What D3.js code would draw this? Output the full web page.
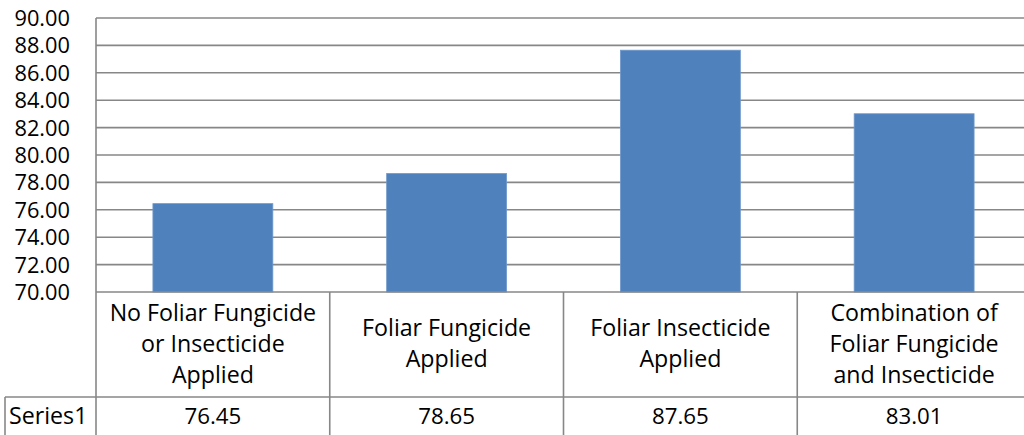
<!DOCTYPE html>
<html><head><meta charset="utf-8">
<script src="https://cdn.jsdelivr.net/npm/d3@7"></script>
<style>html,body{margin:0;padding:0;background:#fff;overflow:hidden}</style>
</head><body><svg id="c" width="1024" height="435"></svg>
<script>
const categories = ["No Foliar Fungicide or Insecticide Applied","Foliar Fungicide Applied","Foliar Insecticide Applied","Combination of Foliar Fungicide and Insecticide"];
const categoryLines = [["No Foliar Fungicide","or Insecticide","Applied"],["Foliar Fungicide","Applied"],["Foliar Insecticide","Applied"],["Combination of","Foliar Fungicide","and Insecticide"]];
const seriesName = "Series1";
const values = [76.45, 78.65, 87.65, 83.01];
const yTicks = [70,72,74,76,78,80,82,84,86,88,90];

(function(){
const svg = d3.select("#c");
const font = "Open Sans, sans-serif";
const fsNum = 21.8, fsText = 23.2;
const pLeft = 96, pRight = 1031, pTop = 18, pBottom = 292, rowY = 397, tableBottom = 440;
const gridColor = "#878787";

const x = d3.scaleBand().domain(categories).range([pLeft, pRight]).paddingInner(0.487).paddingOuter(0.2435);
const y = d3.scaleLinear().domain([70, 90]).range([pBottom, pTop]);

svg.append("g").selectAll("line").data(yTicks.slice(1)).join("line")
  .attr("x1", pLeft).attr("x2", 1024).attr("y1", d => y(d)).attr("y2", d => y(d))
  .attr("stroke", gridColor).attr("stroke-width", 1.6);

svg.append("g").selectAll("rect").data(values).join("rect")
  .attr("x", (d,i) => x(categories[i])).attr("width", x.bandwidth())
  .attr("y", d => y(d)).attr("height", d => y(70) - y(d))
  .attr("fill", "#4F81BD").attr("stroke", "#6f98cc").attr("stroke-width", 0.8);

const yAxis = d3.axisLeft(y).tickValues(yTicks).tickFormat(d3.format(".2f")).tickSize(0).tickPadding(26);
const ga = svg.append("g").attr("transform", `translate(${pLeft},0)`).call(yAxis);
ga.select(".domain").remove();
ga.selectAll("text").attr("font-family", font).attr("font-size", fsNum).attr("fill", "#000").attr("dy", "0.34em");

const lines = svg.append("g").attr("stroke", gridColor).attr("stroke-width", 1.6);
lines.append("line").attr("x1", pLeft).attr("x2", pLeft).attr("y1", pTop).attr("y2", tableBottom);
lines.append("line").attr("x1", pLeft).attr("x2", 1024).attr("y1", pBottom).attr("y2", pBottom);
lines.append("line").attr("x1", 5).attr("x2", 1024).attr("y1", rowY).attr("y2", rowY);
lines.append("line").attr("x1", 5).attr("x2", 5).attr("y1", rowY).attr("y2", tableBottom);
lines.selectAll("line.sep").data(categories.slice(1)).join("line").attr("class","sep")
  .attr("x1", d => x(d) - x.step()*x.paddingInner()/2).attr("x2", d => x(d) - x.step()*x.paddingInner()/2)
  .attr("y1", pBottom).attr("y2", tableBottom);

const lh = 31;
categories.forEach((c,i) => {
  const ls = categoryLines[i];
  const cx = x(c) + x.bandwidth()/2;
  const mid = (pBottom + rowY)/2 - 1;
  const t = svg.append("text").attr("font-family", font).attr("font-size", fsText).attr("text-anchor","middle");
  ls.forEach((l,j) => {
    t.append("tspan").attr("x", cx).attr("y", mid + (j - (ls.length-1)/2)*lh).attr("dy","0.35em").text(l);
  });
});

svg.append("text").attr("x", 9).attr("y", 416).attr("dy","0.35em").attr("font-family", font).attr("font-size", fsText).text(seriesName);
svg.append("g").selectAll("text").data(values).join("text")
  .attr("x", (d,i) => x(categories[i]) + x.bandwidth()/2).attr("y", 416).attr("dy","0.35em")
  .attr("text-anchor","middle").attr("font-family", font).attr("font-size", fsNum + 0.5).text(d => d.toFixed(2));
})();
</script></body></html>
